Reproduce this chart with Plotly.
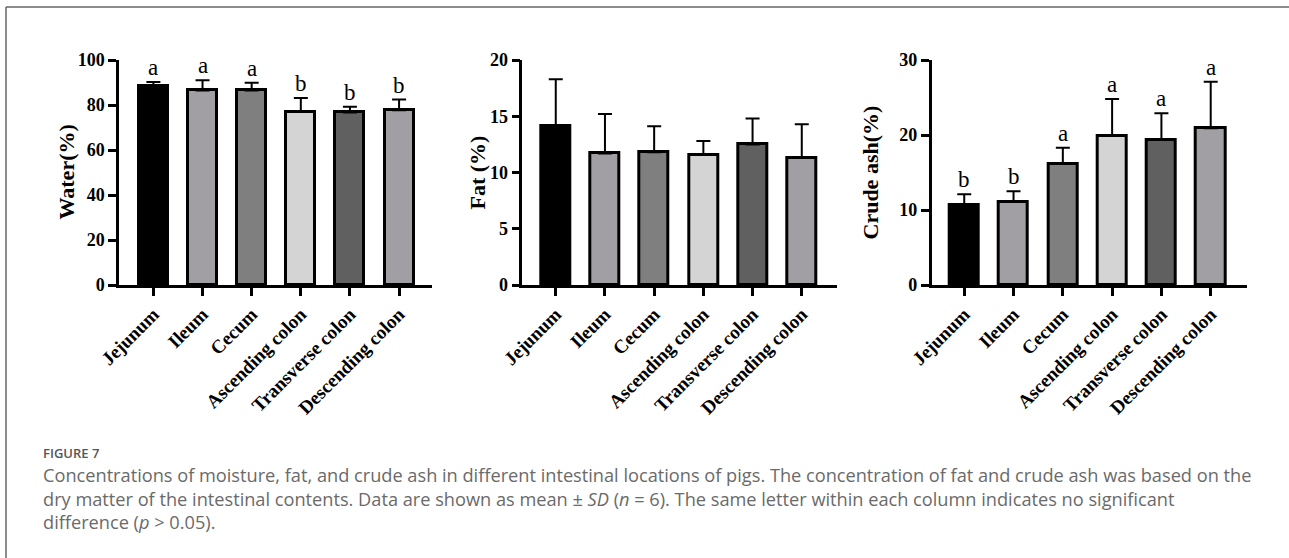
import plotly.graph_objects as go

categories = ["Jejunum", "Ileum", "Cecum", "Ascending colon", "Transverse colon", "Descending colon"]
bar_colors = ["#000000", "#a19fa4", "#7f7f7f", "#d4d4d4", "#606060", "#a19fa4"]

water_mean = [88.6, 86.5, 86.5, 77.1, 76.7, 77.7]
water_sd = [1.6, 4.5, 3.4, 6.0, 2.5, 4.7]
water_letters = ["a", "a", "a", "b", "b", "b"]

fat_mean = [14.1, 11.7, 11.8, 11.6, 12.5, 11.3]
fat_sd = [4.2, 3.5, 2.3, 1.2, 2.3, 3.0]

ash_mean = [10.7, 11.1, 16.2, 19.9, 19.4, 20.9]
ash_sd = [1.4, 1.4, 2.1, 4.9, 3.5, 6.2]
ash_letters = ["b", "b", "a", "a", "a", "a"]

y_titles = ["Water(%)", "Fat (%)", "Crude ash(%)"]
y_ranges = [[0, 100], [0, 20], [0, 30]]
y_dticks = [20, 5, 10]

W, H = 1289, 558
def px(x):
    return x / W
def py(y):
    return 1 - y / H

x_domains = [[px(119), px(432)], [px(522.3), px(836.7)], [px(931.7), px(1246.7)]]
x_ranges = [[-0.70, 5.67], [-0.68, 5.71], [-0.66, 5.73]]
y_domain = [py(285), py(60)]
title_x = [66, 477, 870]

xs = list(range(len(categories)))
serif = "Liberation Serif"

fig = go.Figure()
panels = [(water_mean, water_sd, water_letters), (fat_mean, fat_sd, None), (ash_mean, ash_sd, ash_letters)]
annotations = []
for i, (m, sd, letters) in enumerate(panels):
    n = "" if i == 0 else str(i + 1)
    fig.add_trace(go.Bar(
        x=xs, y=m, width=0.59,
        marker=dict(color=bar_colors, line=dict(color="black", width=3)),
        error_y=dict(type="data", symmetric=False, array=sd, arrayminus=[0] * len(sd),
                     color="black", thickness=2, width=7),
        xaxis="x" + n, yaxis="y" + n, showlegend=False,
    ))
    common_axis = dict(showline=True, linecolor="black", linewidth=2.5, ticks="outside",
                       ticklen=8, tickwidth=2.5, tickcolor="black", showgrid=False, zeroline=False,
                       automargin=False)
    fig.update_layout(**{
        "xaxis" + n: dict(domain=x_domains[i], range=x_ranges[i], tickvals=xs, ticktext=categories,
                          tickangle=-45, anchor="y" + n,
                          tickfont=dict(family=serif, size=19, color="black", weight="bold"),
                          **common_axis),
        "yaxis" + n: dict(domain=y_domain, range=y_ranges[i], dtick=y_dticks[i], anchor="x" + n,
                          tickfont=dict(family=serif, size=18, color="black", weight="bold"),
                          **common_axis),
    })
    annotations.append(dict(x=px(title_x[i]), y=py(172.5), xref="paper", yref="paper",
                            xanchor="center", yanchor="middle", textangle=-90, text=y_titles[i],
                            showarrow=False,
                            font=dict(family=serif, size=22, color="black", weight="bold")))
    if letters:
        for j, L in enumerate(letters):
            annotations.append(dict(x=xs[j], y=m[j] + sd[j], xref="x" + n, yref="y" + n, text=L,
                                    showarrow=False, yanchor="bottom", yshift=0,
                                    font=dict(family=serif, size=23, color="black")))

cap_font = "Open Sans"
cap_x = px(41)
annotations.append(dict(x=cap_x, y=py(453), xref="paper", yref="paper", xanchor="left", yanchor="middle",
                        text="FIGURE 7", showarrow=False,
                        font=dict(family=cap_font, size=13, color="#555555", weight=600)))
cap_lines = [
    "Concentrations of moisture, fat, and crude ash in different intestinal locations of pigs. The concentration of fat and crude ash was based on the",
    "dry matter of the intestinal contents. Data are shown as mean ± <i>SD</i> (<i>n</i> = 6). The same letter within each column indicates no significant",
    "difference (<i>p</i> > 0.05).",
]
annotations.append(dict(x=cap_x, y=py(498), xref="paper", yref="paper", xanchor="left", yanchor="middle",
                        align="left", text="<br>".join(cap_lines), showarrow=False,
                        font=dict(family=cap_font, size=18.2, color="#6a6a6a")))

shapes = [
    dict(type="line", xref="paper", yref="paper", x0=px(6), x1=1.0, y0=py(7), y1=py(7),
         line=dict(color="#666666", width=1.5)),
    dict(type="line", xref="paper", yref="paper", x0=px(6), x1=px(6), y0=py(7), y1=0,
         line=dict(color="#666666", width=1.5)),
]

fig.update_layout(width=W, height=H, margin=dict(l=0, r=0, t=0, b=0, autoexpand=False),
                  paper_bgcolor="white", plot_bgcolor="white",
                  annotations=annotations, shapes=shapes, bargap=0)
fig.write_html("out.html", config={"displayModeBar": False},
               post_script="document.body.style.margin='0';document.body.style.overflow='hidden';")
